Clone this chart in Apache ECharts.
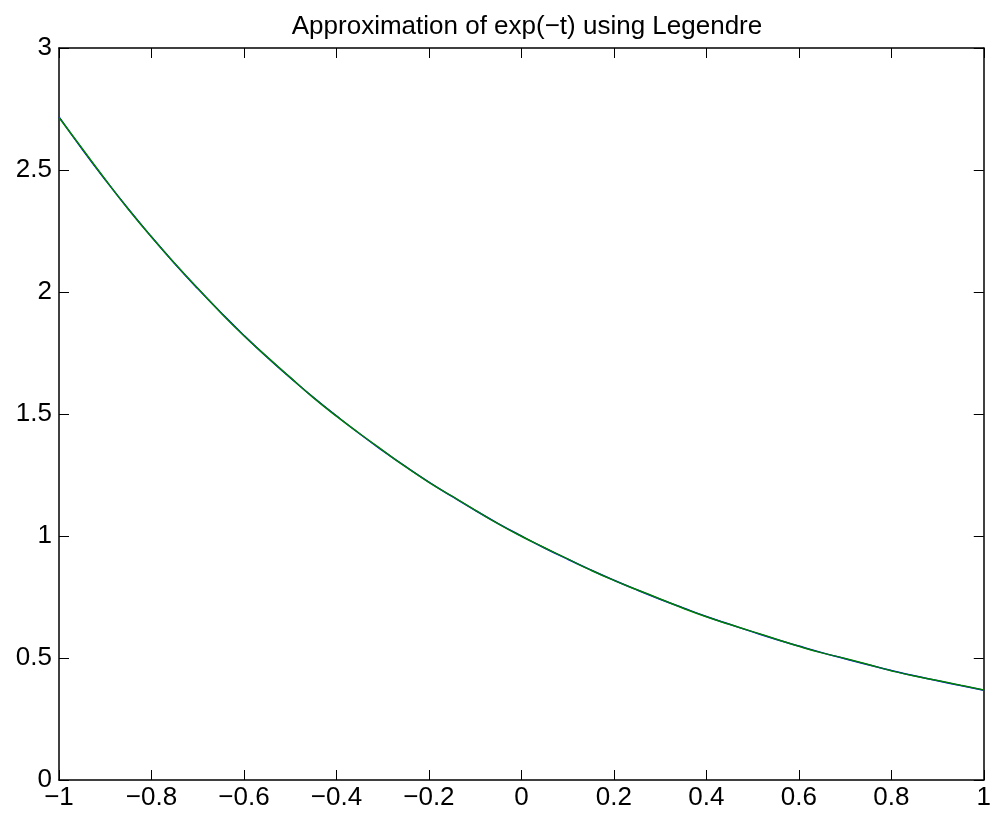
<!DOCTYPE html>
<html><head><meta charset="utf-8">
<script src="https://cdn.jsdelivr.net/npm/echarts@6/dist/echarts.min.js"></script>
<style>html,body{margin:0;padding:0;background:#fff}#c{width:994px;height:819px}</style>
</head><body><div id="c"></div>
<script>
var tValues = [-1.0,-0.95,-0.9,-0.85,-0.8,-0.75,-0.7,-0.65,-0.6,-0.55,-0.5,-0.45,-0.4,-0.35,-0.3,-0.25,-0.2,-0.15,-0.1,-0.05,0.0,0.05,0.1,0.15,0.2,0.25,0.3,0.35,0.4,0.45,0.5,0.55,0.6,0.65,0.7,0.75,0.8,0.85,0.9,0.95,1.0];
var exactValues = [2.718,2.586,2.460,2.340,2.226,2.117,2.014,1.916,1.822,1.733,1.649,1.568,1.492,1.419,1.350,1.284,1.221,1.162,1.105,1.051,1.000,0.951,0.905,0.861,0.819,0.779,0.741,0.705,0.670,0.638,0.607,0.577,0.549,0.522,0.497,0.472,0.449,0.427,0.407,0.387,0.368];
var approxValues = [2.715,2.588,2.461,2.339,2.225,2.118,2.015,1.915,1.821,1.734,1.650,1.567,1.491,1.420,1.351,1.283,1.220,1.163,1.106,1.050,0.999,0.952,0.906,0.860,0.818,0.780,0.742,0.704,0.669,0.638,0.608,0.578,0.548,0.521,0.498,0.473,0.448,0.426,0.408,0.388,0.369];
var xTicks = [-1,-0.8,-0.6,-0.4,-0.2,0,0.2,0.4,0.6,0.8,1];
var yTicks = [0,0.5,1,1.5,2,2.5,3];
var titleText = 'Approximation of exp(\u2212t) using Legendre';

function pairs(xs, ys){ return xs.map(function(x,i){return [x, ys[i]];}); }
function fmt(v){ return String(v).replace('-', '\u2212'); }
var font = 'Liberation Sans';
var axisLineStyle = {color:'#000', width:1.5};
var chart = echarts.init(document.getElementById('c'), null, {renderer:'canvas'});
chart.setOption({
  animation:false,
  backgroundColor:'#fff',
  title:{text:titleText, left:522, top:9, textAlign:'center',
    textStyle:{fontFamily:font, fontSize:26, fontWeight:'normal', color:'#000'}},
  grid:{left:59, right:10, top:48, bottom:39, containLabel:false},
  xAxis:[{type:'value', min:-1, max:1, interval:0.2, position:'bottom',
    axisLine:{show:true, onZero:false, lineStyle:axisLineStyle},
    axisTick:{show:true, inside:true, length:10, lineStyle:{color:'#000', width:1}},
    axisLabel:{fontFamily:font, fontSize:26, color:'#000', margin:5, formatter:function(v){return fmt(Math.round(v*10)/10);}},
    splitLine:{show:false}},
   {type:'value', min:-1, max:1, interval:0.2, position:'top',
    axisLine:{show:true, onZero:false, lineStyle:axisLineStyle},
    axisTick:{show:true, inside:true, length:10, lineStyle:{color:'#000', width:1}},
    axisLabel:{show:false}, splitLine:{show:false}}],
  yAxis:[{type:'value', min:0, max:3, interval:0.5, position:'left',
    axisLine:{show:true, onZero:false, lineStyle:axisLineStyle},
    axisTick:{show:true, inside:true, length:10, lineStyle:{color:'#000', width:1}},
    axisLabel:{fontFamily:font, fontSize:26, color:'#000', margin:7, formatter:function(v){return fmt(v);}},
    splitLine:{show:false}},
   {type:'value', min:0, max:3, interval:0.5, position:'right',
    axisLine:{show:true, onZero:false, lineStyle:axisLineStyle},
    axisTick:{show:true, inside:true, length:10, lineStyle:{color:'#000', width:1}},
    axisLabel:{show:false}, splitLine:{show:false}}],
  series:[
    {type:'line', data:pairs(tValues, exactValues), smooth:true, showSymbol:false, lineStyle:{color:'#0000ff', width:1.5}},
    {type:'line', data:pairs(tValues, approxValues), smooth:true, showSymbol:false, lineStyle:{color:'#008000', width:1.5}}
  ]
});
</script></body></html>
